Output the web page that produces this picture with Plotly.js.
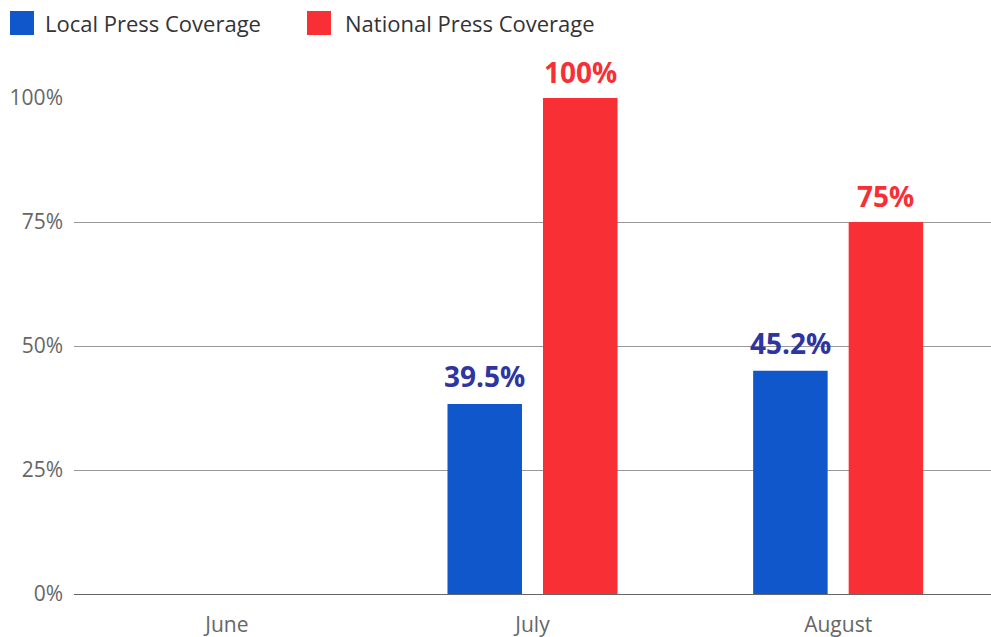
<!DOCTYPE html>
<html>
<head>
<meta charset="utf-8">
<script src="https://cdn.plot.ly/plotly-3.0.1.min.js"></script>
<style>html,body{margin:0;padding:0;background:#fff;}#chart{width:991px;height:637px;}</style>
</head>
<body>
<div id="chart"></div>
<script>
// ---- data ----
const months = ['June', 'July', 'August'];
const localValues = [null, 38.3, 45.0];
const nationalValues = [null, 100, 75];
const localLabels = ['', '39.5%', '45.2%'];
const nationalLabels = ['', '100%', '75%'];
const seriesNames = ['Local Press Coverage', 'National Press Coverage'];
const yTicks = [0, 25, 50, 75, 100];
const yTickLabels = ['0%', '25%', '50%', '75%', '100%'];

// ---- style ----
const W = 991, H = 637;
const M = {l: 74, r: 0, t: 98, b: 43};
const pw = W - M.l - M.r, ph = H - M.t - M.b;
const px = x => (x - M.l) / pw;
const py = y => (H - M.b - y) / ph;
const blue = '#1157cc', red = '#f92f36';
const blueLabel = '#2e35a0';
const fontFamily = '"Open Sans", "Noto Sans", sans-serif';
const bargap = 0.375, bargroupgap = 0.22;
const slotOffset = (1 - bargap) / 4;

const traces = [
  {type: 'bar', x: months, y: localValues, name: seriesNames[0], marker: {color: blue}, hoverinfo: 'skip'},
  {type: 'bar', x: months, y: nationalValues, name: seriesNames[1], marker: {color: red}, hoverinfo: 'skip'}
];

const annotations = [];
months.forEach((m, i) => {
  if (localValues[i] != null) annotations.push({
    xref: 'x', yref: 'y', x: i - slotOffset, y: localValues[i], text: localLabels[i],
    showarrow: false, xanchor: 'center', yanchor: 'middle', yshift: 28,
    font: {family: fontFamily, size: 28, color: blueLabel, weight: 700}
  });
  if (nationalValues[i] != null) annotations.push({
    xref: 'x', yref: 'y', x: i + slotOffset, y: nationalValues[i], text: nationalLabels[i],
    showarrow: false, xanchor: 'center', yanchor: 'middle', yshift: 26,
    font: {family: fontFamily, size: 28, color: red, weight: 700}
  });
});

// custom legend
const legendItems = [
  {name: seriesNames[0], color: blue, sx: 10, tx: 43},
  {name: seriesNames[1], color: red, sx: 307, tx: 343}
];
const shapes = [];
legendItems.forEach(it => {
  shapes.push({type: 'rect', xref: 'paper', yref: 'paper', x0: px(it.sx), x1: px(it.sx + 24), y0: py(35), y1: py(11),
    fillcolor: it.color, line: {width: 0}});
  annotations.push({xref: 'paper', yref: 'paper', x: px(it.tx), y: py(23), text: it.name, showarrow: false,
    xanchor: 'left', yanchor: 'middle', font: {family: fontFamily, size: 22, color: '#333'}});
});

const layout = {
  width: W, height: H,
  margin: M,
  paper_bgcolor: '#fff', plot_bgcolor: '#fff',
  showlegend: false,
  barmode: 'group', bargap: bargap, bargroupgap: bargroupgap,
  font: {family: fontFamily, color: '#666'},
  xaxis: {type: 'category', showgrid: false, showline: false, zeroline: false, ticks: '',
    tickfont: {family: fontFamily, size: 21, color: '#666'}, ticklabelstandoff: 16, fixedrange: true},
  yaxis: {range: [0, 100], tickmode: 'array', tickvals: yTicks, ticktext: yTickLabels,
    showgrid: true, gridcolor: '#999', gridwidth: 1,
    zeroline: true, zerolinecolor: '#666', zerolinewidth: 1, showline: false, ticks: '',
    tickfont: {family: fontFamily, size: 21, color: '#666'}, ticklabelstandoff: 10, fixedrange: true},
  shapes: shapes,
  annotations: annotations
};

Plotly.newPlot('chart', traces, layout, {displayModeBar: false, staticPlot: true});
</script>
</body>
</html>
